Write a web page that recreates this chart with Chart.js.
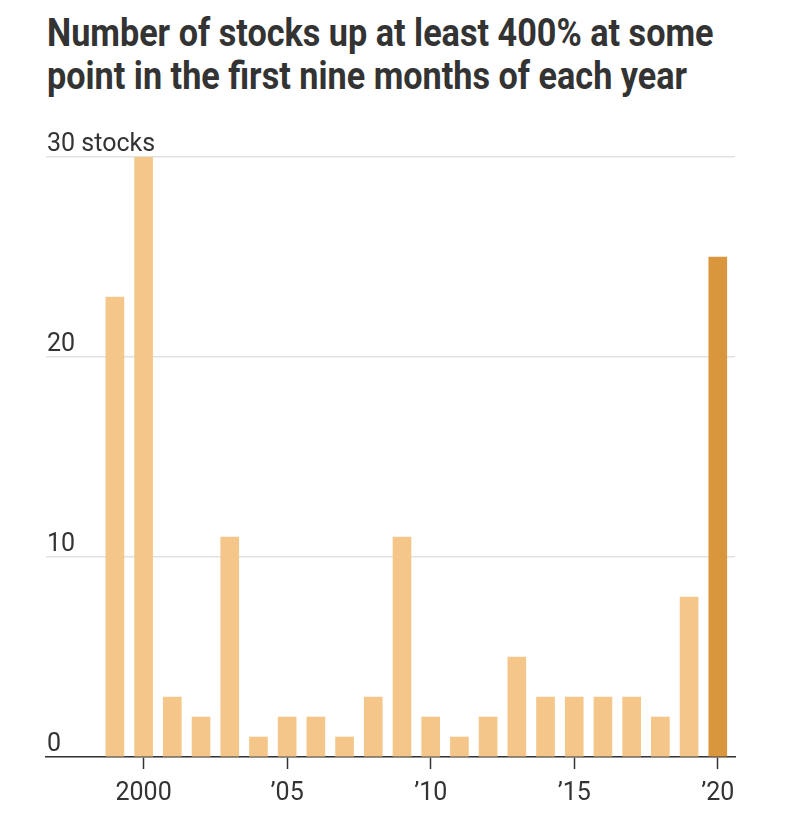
<!DOCTYPE html>
<html>
<head>
<meta charset="utf-8">
<script src="https://cdn.jsdelivr.net/npm/chart.js@4"></script>
<style>
  body { margin: 0; background: #fff; }
  #wrap { position: relative; width: 800px; height: 830px; }
  #title {
    position: absolute; left: 47px; top: 12px;
    font-family: Roboto, sans-serif; font-weight: 700; font-size: 38px;
    line-height: 43px; color: #333;
    transform: scaleX(0.9); transform-origin: left top; white-space: nowrap;
  }
  canvas { position: absolute; left: 0; top: 0; }
</style>
</head>
<body>
<div id="wrap">
  <div id="title">Number of stocks up at least 400% at some<br>point in the first nine months of each year</div>
  <canvas id="chart" width="800" height="830"></canvas>
</div>
<script>
// values
const years = [1999, 2000, 2001, 2002, 2003, 2004, 2005, 2006, 2007, 2008, 2009,
               2010, 2011, 2012, 2013, 2014, 2015, 2016, 2017, 2018, 2019, 2020];
const stocks = [23, 30, 3, 2, 11, 1, 2, 2, 1, 3, 11,
                2, 1, 2, 5, 3, 3, 3, 3, 2, 8, 25];
const xTicks = [2000, 2005, 2010, 2015, 2020];
const yTicks = [0, 10, 20, 30];

const light = '#f5c68a';
const dark = '#d9963d';
const tickFont = { family: 'Roboto, sans-serif', size: 25 };

const points = years.map((y, i) => ({ x: y, y: stocks[i] }));
const colors = years.map(y => y === 2020 ? dark : light);

new Chart(document.getElementById('chart'), {
  type: 'bar',
  data: {
    datasets: [{
      data: points,
      backgroundColor: colors,
      barThickness: 18,
      borderWidth: 0
    }]
  },
  options: {
    responsive: false,
    animation: false,
    layout: { padding: { left: 46, right: 65, top: 157, bottom: 13 } },
    plugins: { legend: { display: false }, tooltip: { enabled: false } },
    scales: {
      x: {
        type: 'linear',
        offset: false,
        min: 1996.6,
        max: 2020.6,
        afterBuildTicks: s => { s.ticks = xTicks.map(v => ({ value: v })); },
        afterFit: s => { s.height = 60; },
        grid: { offset: false, drawOnChartArea: false, drawTicks: true, tickLength: 12, tickColor: '#333', tickWidth: 1.5 },
        border: { color: '#333', width: 1.5 },
        ticks: {
          color: '#333',
          padding: 10,
          maxRotation: 0,
          font: tickFont,
          callback: v => v === 2000 ? '2000' : '\u2019' + String(v).slice(2)
        }
      },
      y: {
        min: 0,
        max: 30,
        afterBuildTicks: s => { s.ticks = yTicks.map(v => ({ value: v })); },
        afterFit: s => { s.width = 0; },
        grid: { color: '#e2e2e2', lineWidth: 1.5, drawTicks: false },
        border: { display: false },
        ticks: {
          mirror: true,
          padding: 1,
          labelOffset: -12,
          color: '#333',
          font: tickFont,
          callback: v => v === 30 ? '30 stocks' : String(v)
        }
      }
    }
  }
});
</script>
</body>
</html>
